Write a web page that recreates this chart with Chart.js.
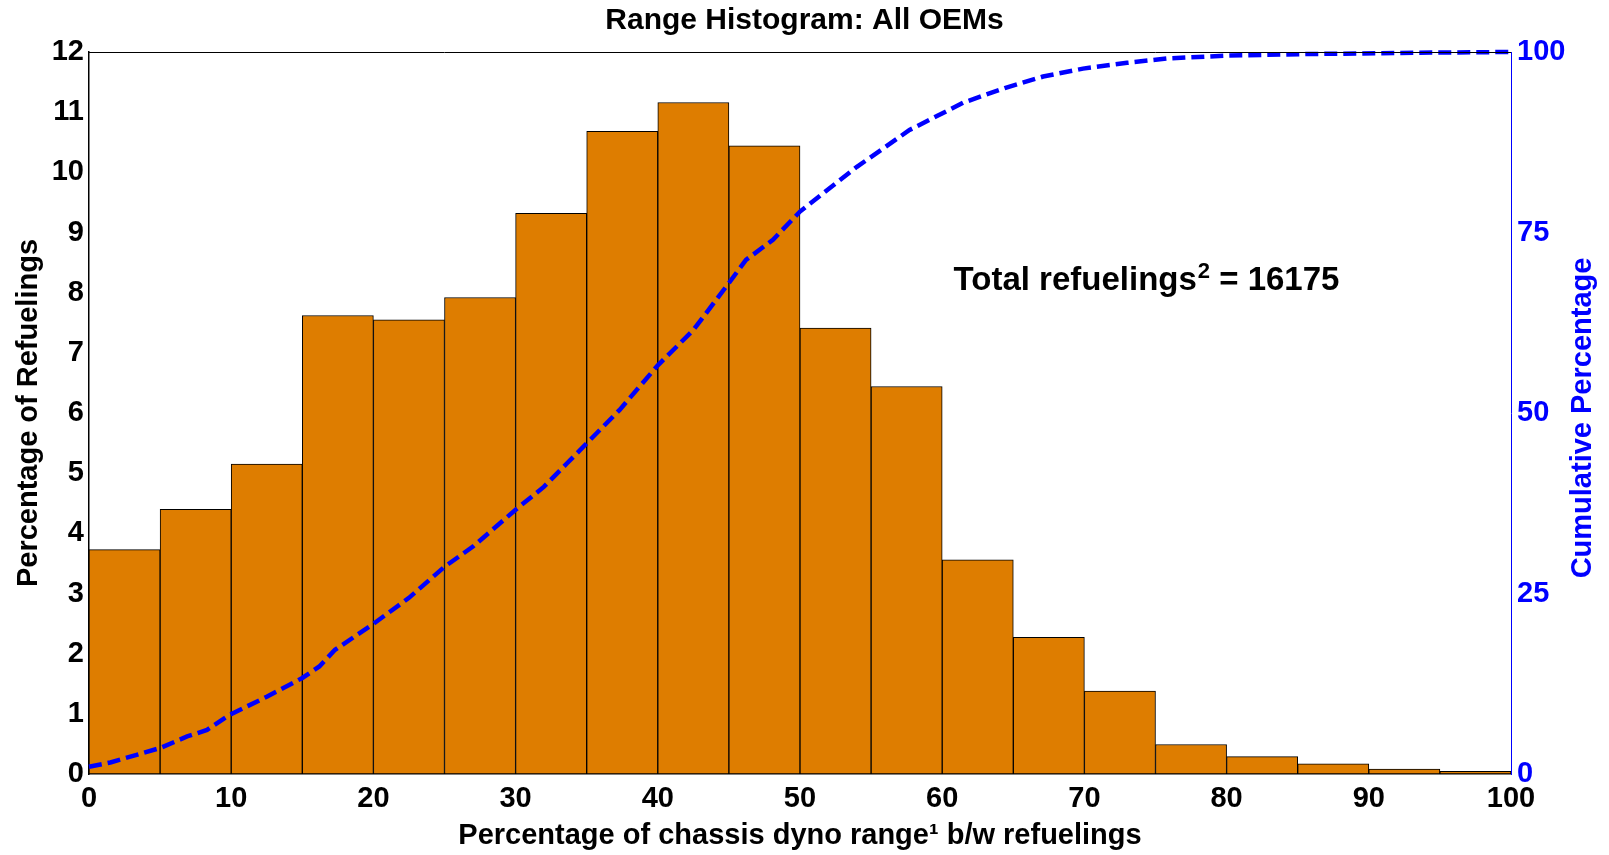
<!DOCTYPE html>
<html>
<head>
<meta charset="utf-8">
<script src="https://cdn.jsdelivr.net/npm/chart.js@4/dist/chart.umd.min.js"></script>
<style>
  html, body { margin: 0; padding: 0; background: #ffffff; }
  #wrap { width: 1609px; height: 855px; }
</style>
</head>
<body>
<div id="wrap"><canvas id="c" width="1609" height="855"></canvas></div>
<script>
// ---- data ----
const chartTitle = "Range Histogram: All OEMs";
const xAxisTitle = "Percentage of chassis dyno range\u00B9 b/w refuelings";
const yAxisTitle = "Percentage of Refuelings";
const y2AxisTitle = "Cumulative Percentage";
const noteMain = "Total refuelings";
const noteSup = "2";
const noteTail = " = 16175";

// histogram bins (centre of each 5 %-wide bin)
const binCenters = [2.5, 7.5, 12.5, 17.5, 22.5, 27.5, 32.5, 37.5, 42.5, 47.5,
                    52.5, 57.5, 62.5, 67.5, 72.5, 77.5, 82.5, 87.5, 92.5, 97.5];
const pctRefuelings = [3.73, 4.40, 5.15, 7.62, 7.55, 7.92, 9.32, 10.68, 11.16, 10.44,
                       7.41, 6.44, 3.56, 2.27, 1.38, 0.49, 0.29, 0.17, 0.08, 0.045];

// cumulative curve (x = % of range, y = cumulative %)
const cumX = [0, 1.5, 3.6, 5, 6.9, 8.3, 9.9, 12.5, 15, 16.2, 17.3, 20, 22.5, 25, 27, 30,
              32, 33.6, 35, 37.3, 40, 42.5, 45, 46.2, 48.1, 50, 51.6, 54, 55.9, 57.7,
              59.1, 61.5, 64.4, 67.1, 69.9, 73, 75.8, 80, 85.2, 93.4, 100];
const cumY = [1.0, 1.6, 2.8, 3.6, 5.2, 6.1, 8.2, 10.7, 13.3, 14.9, 17.2, 20.8, 24.4, 28.7, 31.5, 36.6,
              39.8, 43.0, 45.8, 50.4, 56.6, 61.5, 68.0, 71.2, 74.0, 77.9, 80.4, 84.1, 86.7, 89.2,
              90.6, 93.0, 95.0, 96.6, 97.7, 98.5, 99.1, 99.5, 99.7, 99.9, 100];

const xTickStep = 10, yTickStep = 1, y2TickStep = 25;

// ---- styling ----
const FONT = '"Liberation Sans", Arial, Helvetica, sans-serif';
const BAR_COLOR = '#DE7D00';
const BLUE = '#0000FF';

const barData = binCenters.map((x, i) => ({ x: x, y: pctRefuelings[i] }));
const cumData = cumX.map((x, i) => ({ x: x, y: cumY[i] }));

const extras = {
  id: 'extras',
  afterDraw(chart) {
    const ctx = chart.ctx;
    const a = chart.chartArea;
    ctx.save();
    // top frame line
    ctx.strokeStyle = '#000000';
    ctx.lineWidth = 1;
    ctx.beginPath();
    ctx.moveTo(a.left, a.top + 0.5);
    ctx.lineTo(a.right, a.top + 0.5);
    ctx.stroke();

    // right axis title, reading bottom-to-top
    ctx.fillStyle = BLUE;
    ctx.font = 'bold 29px ' + FONT;
    ctx.textAlign = 'center';
    ctx.textBaseline = 'middle';
    ctx.translate(a.right + 72, (a.top + a.bottom) / 2 + 5);
    ctx.rotate(-Math.PI / 2);
    ctx.fillText(y2AxisTitle, 0, 0);
    ctx.restore();

    // annotation with superscript
    ctx.save();
    const xs = chart.scales.x, ys = chart.scales.y;
    let px = xs.getPixelForValue(60.8);
    const py = ys.getPixelForValue(8.04);
    ctx.fillStyle = '#000000';
    ctx.textAlign = 'left';
    ctx.textBaseline = 'alphabetic';
    ctx.font = 'bold 33px ' + FONT;
    ctx.fillText(noteMain, px, py);
    px += ctx.measureText(noteMain).width + 1;
    ctx.font = 'bold 22px ' + FONT;
    ctx.fillText(noteSup, px, py - 12);
    px += ctx.measureText(noteSup).width;
    ctx.font = 'bold 33px ' + FONT;
    ctx.fillText(noteTail, px, py);
    ctx.restore();
  }
};

new Chart(document.getElementById('c'), {
  type: 'bar',
  data: {
    datasets: [
      {
        type: 'line',
        label: 'Cumulative',
        data: cumData,
        yAxisID: 'y2',
        borderColor: BLUE,
        borderWidth: 4.5,
        borderDash: [13, 6],
        pointRadius: 0,
        tension: 0,
        fill: false,
        clip: false,
        order: 1
      },
      {
        type: 'bar',
        label: 'Percentage of Refuelings',
        data: barData,
        yAxisID: 'y',
        backgroundColor: BAR_COLOR,
        borderColor: '#000000',
        borderWidth: 1,
        barPercentage: 1.0,
        categoryPercentage: 1.0,
        borderSkipped: false,
        order: 2
      }
    ]
  },
  options: {
    responsive: false,
    animation: false,
    devicePixelRatio: 1,
    layout: { padding: 0 },
    plugins: {
      legend: { display: false },
      tooltip: { enabled: false },
      title: {
        display: true,
        text: chartTitle,
        color: '#000000',
        font: { family: FONT, size: 30, weight: 'bold', lineHeight: 1.2 },
        padding: { top: 3, bottom: 13 }
      }
    },
    scales: {
      x: {
        type: 'linear',
        position: 'bottom',
        min: 0, max: 100,
        offset: false,
        grid: { display: false, drawTicks: false },
        border: { display: true, color: '#000000', width: 1.5 },
        ticks: {
          stepSize: xTickStep,
          color: '#000000',
          padding: 8,
          maxRotation: 0,
          font: { family: FONT, size: 29, weight: 'bold' }
        },
        title: {
          display: true,
          text: xAxisTitle,
          color: '#000000',
          font: { family: FONT, size: 29, weight: 'bold', lineHeight: 1.2 },
          padding: { top: 0, bottom: 2 }
        },
        afterFit(s) { s.height = 81; }
      },
      y: {
        type: 'linear',
        position: 'left',
        min: 0, max: 12,
        grid: { display: false, drawTicks: false },
        border: { display: true, color: '#000000', width: 1.5 },
        ticks: {
          stepSize: yTickStep,
          color: '#000000',
          padding: 5,
          font: { family: FONT, size: 29, weight: 'bold' }
        },
        title: {
          display: true,
          text: yAxisTitle,
          color: '#000000',
          font: { family: FONT, size: 29, weight: 'bold', lineHeight: 1.2 },
          padding: { top: 12, bottom: 0 }
        },
        afterFit(s) { s.width = 89; }
      },
      y2: {
        type: 'linear',
        position: 'right',
        min: 0, max: 100,
        grid: { display: false, drawTicks: false },
        border: { display: true, color: BLUE, width: 1 },
        ticks: {
          stepSize: y2TickStep,
          color: BLUE,
          padding: 6,
          font: { family: FONT, size: 29, weight: 'bold' }
        },
        afterFit(s) { s.width = 98; }
      }
    }
  },
  plugins: [extras]
});
</script>
</body>
</html>
